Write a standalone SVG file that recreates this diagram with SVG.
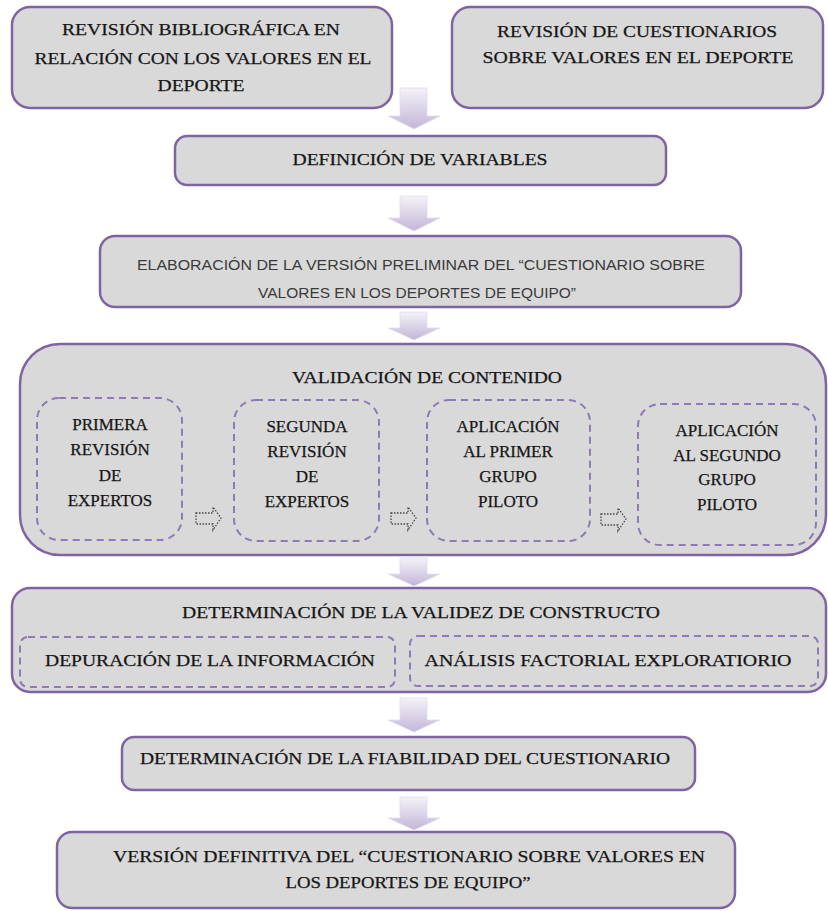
<svg xmlns="http://www.w3.org/2000/svg" width="828" height="911" viewBox="0 0 828 911">
<defs>
<linearGradient id="ag" x1="0" y1="0" x2="0" y2="1">
<stop offset="0" stop-color="#f4f2f8"/>
<stop offset="1" stop-color="#c3b6d8"/>
</linearGradient>
<style>
.box{fill:#d9d9d9;stroke:#8064a2;stroke-width:2.5}
.sub{fill:none;stroke:#8e7ab5;stroke-width:2;stroke-dasharray:7 5}
.t{font-family:"Liberation Serif","Times New Roman",serif;font-size:17px;fill:#161616;text-anchor:middle;stroke:#161616;stroke-width:0.25}
.s{font-family:"Liberation Sans",Arial,sans-serif;font-size:14px;fill:#3a3a3a;text-anchor:middle}
.arr{fill:url(#ag);stroke:#e2dcec;stroke-width:0.8}
.sa{fill:none;stroke:#444;stroke-width:1.3;stroke-dasharray:1.5 1.5}
</style>
</defs>
<rect width="828" height="911" fill="#ffffff"/>
<g id="n1">
<rect class="box" x="12" y="7" width="380" height="101" rx="18"/>
<text class="t" x="201" y="35" textLength="278" lengthAdjust="spacingAndGlyphs">REVISIÓN BIBLIOGRÁFICA EN</text>
<text class="t" x="203" y="64" textLength="337" lengthAdjust="spacingAndGlyphs">RELACIÓN CON LOS VALORES EN EL</text>
<text class="t" x="201" y="91" textLength="87" lengthAdjust="spacingAndGlyphs">DEPORTE</text>
</g>
<g id="n2">
<rect class="box" x="452" y="7" width="371" height="101" rx="18"/>
<text class="t" x="637" y="37" textLength="280" lengthAdjust="spacingAndGlyphs">REVISIÓN DE CUESTIONARIOS</text>
<text class="t" x="638" y="63" textLength="311" lengthAdjust="spacingAndGlyphs">SOBRE VALORES EN EL DEPORTE</text>
</g>
<g id="n3">
<rect class="box" x="175" y="136" width="491" height="49" rx="12"/>
<text class="t" x="420" y="165" font-size="15" textLength="255" lengthAdjust="spacingAndGlyphs">DEFINICIÓN DE VARIABLES</text>
</g>
<g id="n4">
<rect class="box" x="100" y="236" width="641" height="71" rx="15"/>
<text class="s" x="421" y="270" textLength="568" lengthAdjust="spacingAndGlyphs">ELABORACIÓN DE LA VERSIÓN PRELIMINAR DEL “CUESTIONARIO SOBRE</text>
<text class="s" x="417" y="298" textLength="318" lengthAdjust="spacingAndGlyphs">VALORES EN LOS DEPORTES DE EQUIPO”</text>
</g>
<g id="n5">
<rect class="box" x="20" y="344" width="806" height="211" rx="40"/>
<text class="t" x="427" y="383" textLength="270" lengthAdjust="spacingAndGlyphs">VALIDACIÓN DE CONTENIDO</text>
</g>
<g id="n5a">
<rect class="sub" x="37" y="398" width="145" height="142" rx="22"/>
<text class="t" x="110" y="430">PRIMERA</text>
<text class="t" x="110" y="455">REVISIÓN</text>
<text class="t" x="110" y="481">DE</text>
<text class="t" x="110" y="506">EXPERTOS</text>
</g>
<g id="n5b">
<rect class="sub" x="234" y="400" width="145" height="141" rx="22"/>
<text class="t" x="307" y="432">SEGUNDA</text>
<text class="t" x="307" y="457">REVISIÓN</text>
<text class="t" x="307" y="482">DE</text>
<text class="t" x="307" y="507">EXPERTOS</text>
</g>
<g id="n5c">
<rect class="sub" x="427" y="400" width="163" height="141" rx="22"/>
<text class="t" x="508" y="432">APLICACIÓN</text>
<text class="t" x="508" y="457">AL PRIMER</text>
<text class="t" x="508" y="482">GRUPO</text>
<text class="t" x="508" y="507">PILOTO</text>
</g>
<g id="n5d">
<rect class="sub" x="638" y="404" width="178" height="141" rx="22"/>
<text class="t" x="727" y="436">APLICACIÓN</text>
<text class="t" x="727" y="461">AL SEGUNDO</text>
<text class="t" x="727" y="485">GRUPO</text>
<text class="t" x="727" y="510">PILOTO</text>
</g>
<g id="n6">
<rect class="box" x="12" y="588" width="814" height="104" rx="18"/>
<text class="t" x="421" y="618" textLength="478" lengthAdjust="spacingAndGlyphs">DETERMINACIÓN DE LA VALIDEZ DE CONSTRUCTO</text>
</g>
<g id="n6a">
<rect class="sub" x="20" y="637" width="375" height="50" rx="8"/>
<text class="t" x="210" y="666" textLength="330" lengthAdjust="spacingAndGlyphs">DEPURACIÓN DE LA INFORMACIÓN</text>
</g>
<g id="n6b">
<rect class="sub" x="410" y="636" width="408" height="50" rx="8"/>
<text class="t" x="608" y="666" textLength="367" lengthAdjust="spacingAndGlyphs">ANÁLISIS FACTORIAL EXPLORATIORIO</text>
</g>
<g id="n7">
<rect class="box" x="122" y="737" width="573" height="53" rx="12"/>
<text class="t" x="405" y="764" textLength="530" lengthAdjust="spacingAndGlyphs">DETERMINACIÓN DE LA FIABILIDAD DEL CUESTIONARIO</text>
</g>
<g id="n8">
<rect class="box" x="57" y="832" width="678" height="76" rx="15"/>
<text class="t" x="409" y="862" textLength="592" lengthAdjust="spacingAndGlyphs">VERSIÓN DEFINITIVA DEL “CUESTIONARIO SOBRE VALORES EN</text>
<text class="t" x="408" y="888" textLength="245" lengthAdjust="spacingAndGlyphs">LOS DEPORTES DE EQUIPO”</text>
</g>
<g id="connectors">
<path class="arr" d="M400 88 H427 V116 H440 L414 129 L388 116 H400 Z"/>
<path class="arr" d="M400 196 H427 V218 H440 L414 231 L388 218 H400 Z"/>
<path class="arr" d="M400 312 H427 V328 H440 L414 340 L388 328 H400 Z"/>
<path class="arr" d="M400 558 H427 V574 H440 L414 586 L388 574 H400 Z"/>
<path class="arr" d="M400 698 H427 V720 H440 L414 732 L388 720 H400 Z"/>
<path class="arr" d="M400 797 H427 V818 H440 L414 830 L388 818 H400 Z"/>
<path class="sa" d="M196 513 H213 V507 L221 518 L213 530 V524 H196 Z"/>
<path class="sa" d="M391 513 H408 V507 L416 518 L408 530 V524 H391 Z"/>
<path class="sa" d="M601 514 H618 V508 L626 519 L618 531 V525 H601 Z"/>
</g>
</svg>
